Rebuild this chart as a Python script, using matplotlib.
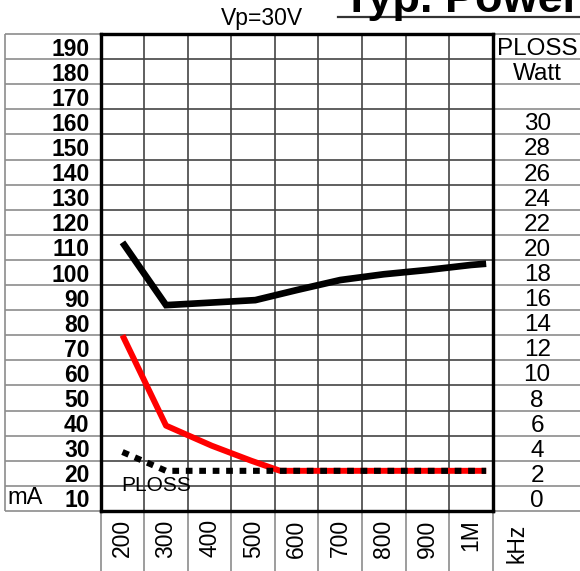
import matplotlib
matplotlib.use("Agg")
import matplotlib.pyplot as plt
from matplotlib.lines import Line2D
import numpy as np

plt.rcParams['font.family'] = ['Liberation Sans', 'DejaVu Sans']

# ---- data ----
freq_ticks = [200, 300, 400, 500, 600, 700, 800, 900, 1000]
freq_labels = ['200', '300', '400', '500', '600', '700', '800', '900', '1M']
ma_ticks = list(range(10, 200, 10))
ploss_ticks = list(range(0, 32, 2))

black_khz = [200, 300, 505, 600, 700, 800, 900, 1000, 1035]
black_ma = [112, 87, 89, 93, 97, 99.3, 101, 103, 103.5]

red_khz = [200, 300, 405, 496, 562, 1035]
red_ma = [75, 39, 31, 25, 21, 21]

ploss_khz = [200, 300, 1035]
ploss_w = [3.7, 2.2, 2.2]

W, H = 580, 571
fig = plt.figure(figsize=(W / 100, H / 100), dpi=100)
L, R, T, B = 100.7, 492.7, 34, 511
ax = fig.add_axes([L / W, 1 - B / H, (R - L) / W, (B - T) / H])

ax.set_xlim(150, 1050)
ax.set_ylim(5, 195)

grid_c = '#444444'
table_c = '#8c8c8c'

row_bounds = np.arange(15, 195, 10)
col_bounds = np.arange(250, 1050, 100)
ax.hlines(row_bounds, 150, 1050, color=grid_c, lw=1.2, zorder=1)
ax.vlines(col_bounds, 5, 195, color=grid_c, lw=1.2, zorder=1)

# outer table lines
all_rows = np.arange(5, 196, 10)
yt = ax.get_yaxis_transform()
xt = ax.get_xaxis_transform()
lx = (5 - L) / (R - L)
rx = (W + 2 - L) / (R - L)
ax.hlines(all_rows, lx, 0, transform=yt, color=table_c, lw=1.2, clip_on=False, zorder=0)
ax.hlines(all_rows, 1, rx, transform=yt, color=table_c, lw=1.2, clip_on=False, zorder=0)
ax.vlines([lx], 0, 1, transform=ax.transAxes, color=table_c, lw=1.2, clip_on=False)
ax.vlines(list(col_bounds) + [150, 1050], -0.15, 0, transform=xt, color=table_c,
          lw=1.2, clip_on=False)

# data lines
ax.plot(black_khz, black_ma, color='black', lw=4.8, solid_capstyle='butt',
        solid_joinstyle='miter', zorder=3)
ax.plot(red_khz, red_ma, color='#ff0000', lw=4.3, solid_capstyle='butt', zorder=3)

ax2 = ax.twinx()
ax2.set_ylim((5 - 10) / 5, (195 - 10) / 5)
ax2.plot(ploss_khz, ploss_w, color='black', lw=4.4, linestyle=(0, (1.1, 1.1)),
         dash_capstyle='butt', zorder=4)

for a in (ax, ax2):
    for s in a.spines.values():
        s.set_linewidth(2.3)
        s.set_color('black')

ax.set_yticks(ma_ticks)
ax.set_yticklabels([str(v) for v in ma_ticks], fontsize=16.5, fontweight='bold')
ax.tick_params(axis='y', length=0, pad=8.0)
ax.set_xticks(freq_ticks)
ax.set_xticklabels(freq_labels, fontsize=16.5, rotation=90, va='top', ha='center')
ax.tick_params(axis='x', length=0, pad=6)

r_ticks = ploss_ticks + [34, 36]
r_labels = [str(v) for v in ploss_ticks] + ['Watt', 'PLOSS']
ax2.set_yticks(r_ticks)
ax2.set_yticklabels(r_labels, fontsize=17.5)
for t in ax2.get_yticklabels():
    t.set_ha('center')
ax2.tick_params(axis='y', length=0, pad=32)

ax.text((7 - L) / (R - L), 10, 'mA', transform=yt, fontsize=17, ha='left', va='center')
ax.text(198, 15.0, 'PLOSS', fontsize=15, ha='left', va='center', zorder=5)
ax.text((517 - L) / (R - L), -13 / (B - T), 'kHz', transform=ax.transAxes,
        fontsize=16.5, rotation=90, ha='center', va='top')

fig.text(262 / W, 1 - 25 / H, 'Vp=30V', fontsize=16.5, ha='center', va='baseline')
fig.text(343 / W, 1 - 12 / H, 'Typ. Power', fontsize=32.5, fontweight='bold',
         ha='left', va='baseline')
fig.add_artist(Line2D([338 / W, 1.0], [1 - 16.5 / H, 1 - 16.5 / H],
                      transform=fig.transFigure, color='#333333', lw=1.6))

fig.savefig('out.png', dpi=100)
